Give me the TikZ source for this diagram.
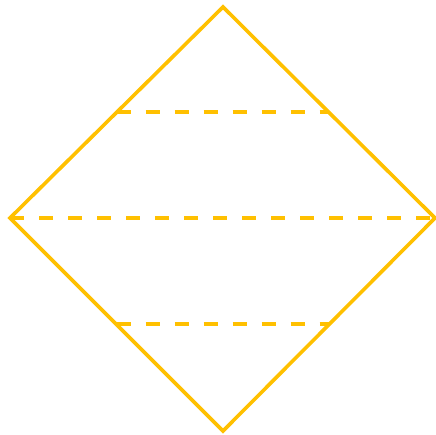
\documentclass[tikz,border=0pt]{standalone}
\usepackage{tikz}
\usetikzlibrary{calc}
\definecolor{amber}{RGB}{255,192,0}

\begin{document}
\begin{tikzpicture}[
        x=1pt, y=1pt,
        edge/.style={draw=amber, line width=3.6pt, line join=miter},
        level/.style={draw=amber, line width=4pt, dash pattern=on 14pt off 15pt}
    ]
        \useasboundingbox (0,0) rectangle (436,435);
        \coordinate (top) at (223,428);
        \coordinate (left) at (10,217);
        \coordinate (right) at (435,217);
        \coordinate (bottom) at (223,4);
        
        \draw[edge] (top) -- (right) -- (bottom) -- (left) -- cycle;
        
        \coordinate (ul) at ($(left)!0.5!(top)$);
        \coordinate (ur) at ($(right)!0.5!(top)$);
        \coordinate (ll) at ($(left)!0.5!(bottom)$);
        \coordinate (lr) at ($(right)!0.5!(bottom)$);
        \draw[level] (ul) -- (ur);
        \draw[level] (left) -- (right);
        \draw[level] (ll) -- (lr);
    \end{tikzpicture}
\end{document}
